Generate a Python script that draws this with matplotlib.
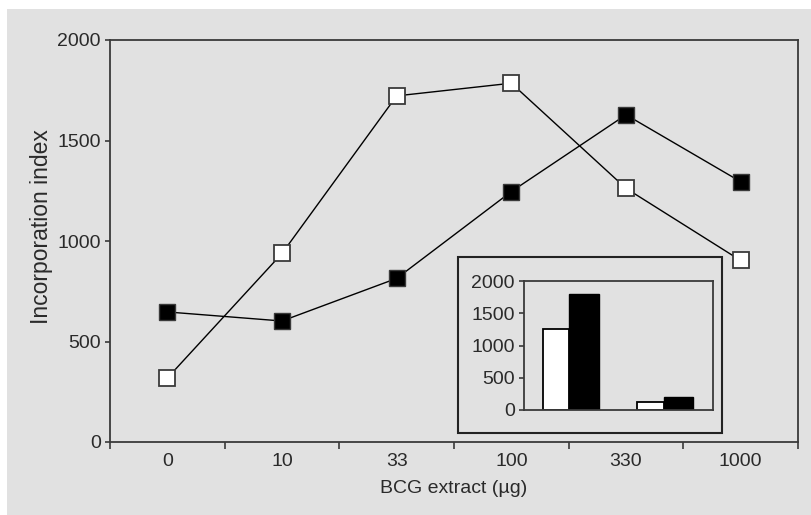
import matplotlib
matplotlib.use('Agg')
import matplotlib.pyplot as plt
from matplotlib.patches import Rectangle

# Data
doses = ['0', '10', '33', '100', '330', '1000']
open_vals = [318, 938, 1722, 1785, 1262, 903]
filled_vals = [647, 602, 814, 1246, 1628, 1295]

# Inset bar chart values (two groups)
inset_open = [1250, 120]
inset_filled = [1800, 200]

plt.rcParams['font.family'] = ['Liberation Sans', 'DejaVu Sans']
bg = '#e1e1e1'
spine_col = '#3a3a3a'
txt_col = '#2a2a2a'
fs = 14

fig = plt.figure(figsize=(8.11, 5.15), dpi=100)
fig.patch.set_facecolor('white')
# gray panel behind the chart
fig.patches.append(Rectangle((7 / 811, 0), 1, 1 - 9 / 515, transform=fig.transFigure,
                             facecolor=bg, edgecolor='none', zorder=-10))

ax = fig.add_axes([110 / 811, (515 - 442) / 515, 688 / 811, 402 / 515])
ax.set_facecolor('none')
ax.set_zorder(1)
x = list(range(len(doses)))
ax.plot(x, open_vals, color='black', lw=1.0, marker='s', ms=11.5,
        mfc='white', mec=spine_col, mew=1.3, zorder=3)
ax.plot(x, filled_vals, color='black', lw=1.0, marker='s', ms=11.5,
        mfc='black', mec=spine_col, mew=1.0, zorder=3)

ax.set_xlim(-0.5, 5.5)
ax.set_ylim(0, 2000)
ax.set_yticks([0, 500, 1000, 1500, 2000])
ax.set_xticks([i - 0.5 for i in range(7)])
ax.set_xticklabels([])
ax.set_xticks(x, minor=True)
ax.set_xticklabels(doses, minor=True)
ax.tick_params(axis='x', which='major', direction='out', length=5, width=1.2, color=spine_col)
ax.tick_params(axis='x', which='minor', length=0, pad=8, labelsize=fs, labelcolor=txt_col)
ax.tick_params(axis='y', direction='out', length=3.5, width=1.2, color=spine_col,
               labelsize=fs, labelcolor=txt_col, pad=3)
for s in ax.spines.values():
    s.set_color(spine_col)
    s.set_linewidth(1.3)
ax.set_xlabel('BCG extract (µg)', fontsize=fs, color=txt_col, labelpad=7)
ax.set_ylabel('Incorporation index', fontsize=16.5, color=txt_col)
ax.yaxis.set_label_coords(-0.083, 0.535)

# frame around the inset
frame = Rectangle((458 / 811, (515 - 433) / 515), 264 / 811, 176 / 515,
                  transform=fig.transFigure, facecolor=bg,
                  edgecolor='#222222', lw=1.5, zorder=2)
fig.patches.append(frame)

ins = fig.add_axes([524 / 811, (515 - 410) / 515, 189 / 811, 129 / 515])
ins.set_facecolor('none')
ins.set_zorder(5)
gx = [0, 1]
ins.bar([g - 0.28 for g in gx], inset_open, width=0.28, align='edge',
        color='white', edgecolor='black', lw=1.3)
ins.bar([g for g in gx], inset_filled, width=0.31, align='edge',
        color='black', edgecolor='black', lw=1.0)
ins.set_xlim(-0.48, 1.52)
ins.set_ylim(0, 2000)
ins.set_yticks([0, 500, 1000, 1500, 2000])
ins.set_xticks([])
ins.tick_params(axis='y', direction='out', length=3.5, width=1.2, color=spine_col,
                labelsize=fs, labelcolor=txt_col, pad=3)
for s in ins.spines.values():
    s.set_color(spine_col)
    s.set_linewidth(1.3)

fig.savefig('out.png', dpi=100)
